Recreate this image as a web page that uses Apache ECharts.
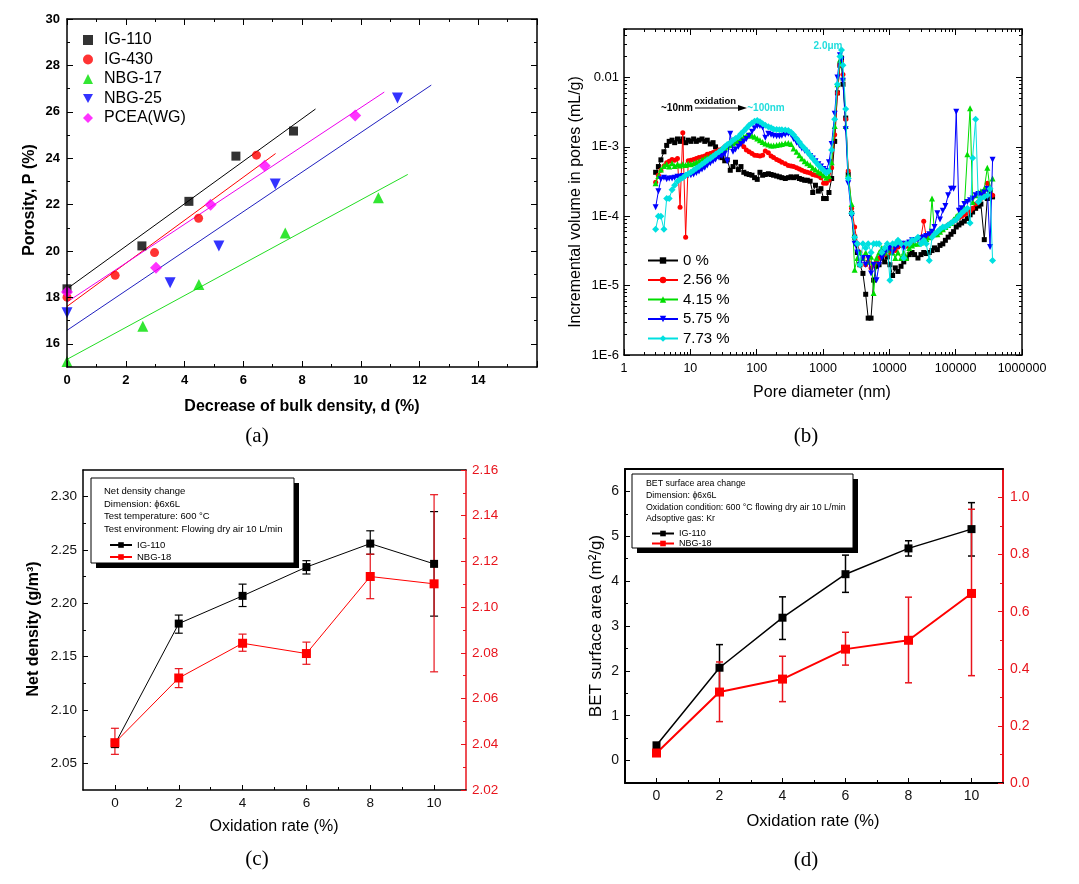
<!DOCTYPE html>
<html><head><meta charset="utf-8">
<script src="https://cdn.jsdelivr.net/npm/echarts@6/dist/echarts.min.js"></script>
<style>html,body{margin:0;padding:0;background:#fff}#c{width:1079px;height:884px}</style>
</head><body><div id="c"></div>
<script>
const FONT = '"Liberation Sans", Arial, Helvetica, sans-serif';
const SERIF = '"Liberation Serif", "Times New Roman", serif';

// ================= Panel (a) =================
const aXTicks = [0,2,4,6,8,10,12,14,16];
const aXLabels = [0,2,4,6,8,10,12,14];
const aXMinor = [1,3,5,7,9,11,13,15];
const aYTicks = [16,18,20,22,24,26,28,30];
const aYMinor = [17,19,21,23,25,27,29];
const aNames = ['IG-110','IG-430','NBG-17','NBG-25','PCEA(WG)'];
const aIG110 = [[0,18.37],[2.55,20.22],[4.15,22.14],[5.75,24.09],[7.71,25.17]];
const aIG430 = [[0,18.01],[1.64,18.95],[2.98,19.93],[4.48,21.41],[6.45,24.13]];
const aNBG17 = [[0,15.24],[2.58,16.76],[4.49,18.56],[7.43,20.78],[10.6,22.3]];
const aNBG25 = [[0,17.34],[3.51,18.63],[5.17,20.22],[7.09,22.89],[11.25,26.6]];
const aPCEA  = [[0,18.23],[3.03,19.28],[4.89,21.99],[6.73,23.67],[9.81,25.84]];
const aFitIG110 = [[0,18.37],[8.46,26.12]];
const aFitIG430 = [[0,17.61],[7.1,24.2]];
const aFitNBG17 = [[0,15.33],[11.6,23.3]];
const aFitNBG25 = [[0,16.58],[12.4,27.15]];
const aFitPCEA  = [[0,17.8],[10.8,26.85]];

// ================= Panel (b) =================
const bNames = ['0 %','2.56 %','4.15 %','5.75 %','7.73 %'];
const bXTicks = [1,10,100,1000,10000,100000,1000000];
const bXMinor = [2,3,4,5,6,7,8,9,20,30,40,50,60,70,80,90,200,300,400,500,600,700,800,900,
  2000,3000,4000,5000,6000,7000,8000,9000,20000,30000,40000,50000,60000,70000,80000,90000,
  200000,300000,400000,500000,600000,700000,800000,900000];
const bYTicks = [1e-6,1e-5,1e-4,1e-3,1e-2];
const bYLabels = ['1E-6','1E-5','1E-4','1E-3','0.01'];
const bYMinor = [2e-6,3e-6,4e-6,5e-6,6e-6,7e-6,8e-6,9e-6,2e-5,3e-5,4e-5,5e-5,6e-5,7e-5,8e-5,9e-5,
  2e-4,3e-4,4e-4,5e-4,6e-4,7e-4,8e-4,9e-4,2e-3,3e-3,4e-3,5e-3,6e-3,7e-3,8e-3,9e-3,2e-2,3e-2,4e-2,5e-2];
const bDiameter = [3,3.3,3.6,4,4.4,4.8,5.3,5.8,6.4,7, 7.7,8.5,9.3,10.2,11.2,12.3,13.5,15,16.5,18,
  20,22,24,27,30,33,36,40,44,48, 53,58,64,70,77,85,93,102,112,123,
  135,150,165,180,200,220,240,270,300,330, 360,400,440,480,530,580,640,700,770,850,
  930,1020,1120,1230,1350,1500,1650,1800,1900,2000, 2200,2400,2700,3000,3300,3600,4000,4400,4800,5300,
  5800,6400,7000,7700,8500,9300,10200,11200,12300,13500, 15000,16500,18000,20000,22000,24000,27000,30000,33000,36000,
  40000,44000,48000,53000,58000,64000,70000,77000,85000,93000, 102000,112000,123000,135000,150000,165000,180000,200000,220000,240000,
  270000,300000,330000,360000];
const b000 = [4.3e-4,5.2e-4,6.5e-4,8.5e-4,1.05e-3,1.2e-3,1.25e-3,1.15e-3,1.3e-3,1.2e-3,
  1.3e-3,1.15e-3,1.25e-3,1.2e-3,1.3e-3,1.2e-3,1.25e-3,1.3e-3,1.2e-3,1.25e-3,
  1.1e-3,1.15e-3,1.0e-3,8.5e-4,7e-4,6.3e-4,6.5e-4,4.6e-4,5.2e-4,6e-4,
  4.7e-4,5.2e-4,4.3e-4,4.1e-4,4e-4,3.9e-4,3.6e-4,3.4e-4,4.3e-4,3.9e-4,
  4e-4,4.1e-4,4e-4,3.9e-4,3.8e-4,3.7e-4,3.6e-4,3.5e-4,3.6e-4,3.7e-4,
  3.6e-4,3.7e-4,3.5e-4,3.4e-4,3.3e-4,3.3e-4,3.2e-4,2.2e-4,2.8e-4,2.3e-4,
  2.5e-4,1.8e-4,1.8e-4,2.2e-4,3.5e-4,1.2e-3,6e-3,1.5e-2,1.9e-2,8e-3,
  2.6e-3,4e-4,1.1e-4,5e-5,3e-5,2e-5,1.5e-5,7.5e-6,3.4e-6,3.4e-6,
  1.2e-5,1.9e-5,2e-5,2.5e-5,2.2e-5,2.6e-5,2e-5,1.4e-5,1.8e-5,1.6e-5,
  1.9e-5,2.2e-5,2.5e-5,2.8e-5,3e-5,2.8e-5,2.5e-5,2.8e-5,3e-5,2.9e-5,
  3e-5,3.2e-5,3.5e-5,3.3e-5,3.8e-5,4e-5,4.5e-5,5e-5,5.5e-5,6e-5,
  7e-5,7.5e-5,8e-5,8.5e-5,9.3e-5,1.05e-4,1.15e-4,1.3e-4,1.4e-4,1.5e-4,
  4.6e-5,1.8e-4,2.3e-4,1.9e-4];
const b256 = [3.1e-4,3.9e-4,4.6e-4,5.3e-4,5.9e-4,6.2e-4,6.6e-4,6.4e-4,6.8e-4,1.35e-4,
  1.6e-3,5e-5,6.3e-4,6.4e-4,6.6e-4,6.8e-4,7e-4,7.2e-4,7.4e-4,7.8e-4,
  8e-4,8.3e-4,8.6e-4,9e-4,9.3e-4,1e-3,1.05e-3,1.15e-3,1.25e-3,1.3e-3,
  1.2e-3,1.1e-3,1e-3,9e-4,8.5e-4,8e-4,7.6e-4,7.5e-4,7.4e-4,7.6e-4,
  8.7e-4,8.2e-4,7.4e-4,7e-4,6.6e-4,6.3e-4,6e-4,5.7e-4,5.4e-4,5.3e-4,
  5.2e-4,5e-4,4.8e-4,4.6e-4,4.4e-4,4.3e-4,4.2e-4,4e-4,3.9e-4,3.8e-4,
  3.6e-4,3e-4,3e-4,3.3e-4,5e-4,1.5e-3,6e-3,1.5e-2,1.7e-2,1.1e-2,
  2.5e-3,4.5e-4,1.3e-4,7e-5,4e-5,3e-5,2.5e-5,2e-5,2.2e-5,1.8e-5,
  2e-5,2.2e-5,2.5e-5,3e-5,2.8e-5,3.2e-5,3e-5,3.5e-5,3.2e-5,3.6e-5,
  3.8e-5,4e-5,3.7e-5,4e-5,4.3e-5,4.5e-5,4.8e-5,5e-5,8.5e-5,5e-5,
  5.5e-5,5.2e-5,5.5e-5,5.8e-5,6e-5,6.5e-5,7e-5,7.5e-5,8e-5,8.5e-5,
  9e-5,9.5e-5,1e-4,1.05e-4,1.1e-4,1.2e-4,1.3e-4,1.5e-4,1.6e-4,1.8e-4,
  2e-4,3e-4,2.5e-4,2e-4];
const b415 = [3e-4,3.8e-4,4.7e-4,5.3e-4,5.6e-4,5.2e-4,5.8e-4,5.3e-4,5.6e-4,5.4e-4,
  5.6e-4,5.5e-4,5.7e-4,5.6e-4,5.8e-4,6e-4,6.2e-4,6.5e-4,6.8e-4,7e-4,
  7.3e-4,7.6e-4,8e-4,8.5e-4,9e-4,9.5e-4,1e-3,1.06e-3,1.12e-3,1.18e-3,
  1.25e-3,1.32e-3,1.4e-3,1.45e-3,1.5e-3,1.45e-3,1.4e-3,1.32e-3,1.25e-3,1.18e-3,
  1.12e-3,1.08e-3,1.05e-3,1.05e-3,1.06e-3,1.08e-3,1.1e-3,1.13e-3,1.14e-3,1.1e-3,
  9.5e-4,8.5e-4,7.6e-4,6.8e-4,6.2e-4,5.8e-4,5.5e-4,5e-4,4.7e-4,4.4e-4,
  4.2e-4,3.9e-4,3.6e-4,3.8e-4,6e-4,2e-3,8e-3,1.8e-2,1.7e-2,1e-2,
  2e-3,4e-4,1.5e-4,1.7e-5,2.5e-5,3e-5,2.5e-5,3e-5,2.2e-5,2.6e-5,
  7.8e-6,2.5e-5,3e-5,3.5e-5,3e-5,3.3e-5,3.5e-5,3e-5,2.5e-5,3e-5,
  2.5e-5,3e-5,2.5e-5,3.5e-5,3.8e-5,4e-5,4e-5,4.2e-5,4.5e-5,4.7e-5,
  5e-5,1.8e-4,5.5e-5,5.5e-5,6e-5,6.5e-5,7e-5,7.5e-5,8e-5,9e-5,
  1e-4,1.1e-4,1.2e-4,1.3e-4,7.8e-4,3.6e-3,1.6e-4,2e-4,2.2e-4,2.3e-4,
  2.5e-4,5e-4,2.5e-4,3.5e-4];
const b575 = [1.35e-4,2.3e-4,3.4e-4,3.6e-4,3.4e-4,3.5e-4,3.5e-4,3.6e-4,3.7e-4,3.7e-4,
  3.8e-4,3.8e-4,3.9e-4,3.9e-4,4e-4,4.2e-4,4.4e-4,4.7e-4,5e-4,5.4e-4,
  5.8e-4,6.2e-4,6.6e-4,7e-4,7.4e-4,8e-4,6.2e-4,1.55e-3,8.5e-4,9.2e-4,
  1e-3,1.1e-3,1.2e-3,1.3e-3,1.45e-3,1.65e-3,1.85e-3,2e-3,2e-3,1.9e-3,
  1.35e-3,1.55e-3,1.5e-3,1.45e-3,1.42e-3,1.42e-3,1.45e-3,1.5e-3,1.55e-3,1.5e-3,
  1.3e-3,1.15e-3,1.05e-3,9.5e-4,8.8e-4,8.2e-4,7.4e-4,6.8e-4,6.2e-4,5.6e-4,
  5.2e-4,4.8e-4,4.5e-4,6e-4,1.1e-3,3e-3,1e-2,2.1e-2,1.8e-2,9e-3,
  1.8e-3,3e-4,1e-4,4e-5,3e-5,2e-5,2.5e-5,2e-5,2.5e-5,1.5e-5,
  2e-5,1.2e-5,2e-5,2.5e-5,3e-5,3.2e-5,3.5e-5,3e-5,3.5e-5,3.8e-5,
  4e-5,3.5e-5,4e-5,4.2e-5,4.5e-5,4.5e-5,4.6e-5,4.8e-5,5e-5,5.2e-5,
  5.5e-5,6e-5,7e-5,1.1e-4,9e-5,1.2e-4,1.4e-4,2e-4,2.5e-4,2.5e-4,
  3.2e-3,1.2e-4,1.3e-4,1.5e-4,1.6e-4,1.7e-4,1.8e-4,2e-4,2.1e-4,2e-4,
  2.2e-4,2.5e-4,3.6e-5,6.5e-4];
const b773 = [6.5e-5,1e-4,1e-4,6.5e-5,1.8e-4,1.8e-4,2.4e-4,2.8e-4,3.2e-4,3.4e-4,
  3.6e-4,3.9e-4,4.1e-4,4.3e-4,4.6e-4,4.9e-4,5.2e-4,5.6e-4,6e-4,6.4e-4,
  6.8e-4,7.3e-4,7.8e-4,8.5e-4,9.2e-4,1e-3,1.08e-3,1.15e-3,1.25e-3,1.32e-3,
  1.4e-3,1.55e-3,1.7e-3,1.85e-3,2.05e-3,2.2e-3,2.35e-3,2.4e-3,2.3e-3,2.15e-3,
  2.05e-3,1.95e-3,1.88e-3,1.8e-3,1.78e-3,1.76e-3,1.76e-3,1.75e-3,1.72e-3,1.62e-3,
  1.5e-3,1.32e-3,1.18e-3,1.05e-3,9.5e-4,8.5e-4,7.6e-4,6.8e-4,6.1e-4,5.5e-4,
  5e-4,4.6e-4,4.2e-4,4.5e-4,9e-4,2.5e-3,8e-3,2e-2,2.5e-2,1.5e-2,
  3.5e-3,3.5e-4,1.1e-4,5e-5,4e-5,2e-5,4e-5,3.5e-5,4e-5,3e-5,
  4e-5,4e-5,4e-5,3e-5,3.5e-5,4e-5,1.2e-5,4e-5,4e-5,4.5e-5,
  4e-5,2.5e-5,4e-5,4e-5,4.5e-5,4.5e-5,5e-5,4e-5,4.5e-5,4e-5,
  2.3e-5,5e-5,5.5e-5,6e-5,6.5e-5,7e-5,7e-5,7.5e-5,8e-5,8.5e-5,
  9e-5,1e-4,1.1e-4,1.2e-4,1.3e-4,8e-5,6.9e-4,2.5e-3,1.6e-4,1.8e-4,
  1.9e-4,2e-4,2.5e-4,2.3e-5];

// ================= Panel (c) =================
const cdXTicks = [0,2,4,6,8,10];
const cdXMinor = [1,3,5,7,9];
const cX = [0,2,4,6,8,10];
const cLeftTicks = [2.05,2.10,2.15,2.20,2.25,2.30];
const cLeftMinor = [2.075,2.125,2.175,2.225,2.275];
const cRightTicks = [2.02,2.04,2.06,2.08,2.10,2.12,2.14,2.16];
const cRightMinor = [2.03,2.05,2.07,2.09,2.11,2.13,2.15];
const cIG110 = [2.068,2.181,2.207,2.234,2.256,2.237];
const cIG110Lo = [2.065,2.172,2.197,2.2275,2.246,2.188];
const cIG110Hi = [2.071,2.189,2.218,2.240,2.268,2.286];
const cNBG18 = [2.0407,2.069,2.0842,2.0797,2.1134,2.1102];
const cNBG18Lo = [2.0356,2.0648,2.0807,2.075,2.1037,2.0717];
const cNBG18Hi = [2.047,2.0731,2.0882,2.0847,2.1232,2.1492];

// ================= Panel (d) =================
const dX = [0,2,4,6,8,10];
const dLeftTicks = [0,1,2,3,4,5,6];
const dLeftMinor = [0.5,1.5,2.5,3.5,4.5,5.5];
const dRightTicks = [0,0.2,0.4,0.6,0.8,1.0];
const dRightMinor = [0.1,0.3,0.5,0.7,0.9];
const dIG110 = [0.34,2.07,3.185,4.155,4.73,5.16];
const dIG110Lo = [0.31,1.55,2.70,3.75,4.56,4.56];
const dIG110Hi = [0.37,2.585,3.65,4.58,4.90,5.75];
const dNBG18 = [0.105,0.3186,0.364,0.469,0.50,0.664];
const dNBG18Lo = [0.098,0.215,0.285,0.413,0.351,0.376];
const dNBG18Hi = [0.112,0.424,0.444,0.528,0.651,0.959];

// ================= helpers =================
const xAxes = [], yAxes = [];
function axis(o) {
  const color = o.color || '#000';
  const a = {
    type: o.type || 'value', gridIndex: o.grid, position: o.pos, min: o.min, max: o.max,
    axisLine: {show: o.line !== false, onZero: false, lineStyle: {color: color, width: o.lineW || 1.5}},
    axisTick: o.ticks ? {show: true, inside: true, length: o.tickLen || 5, customValues: o.ticks, lineStyle: {color: color, width: 1}} : {show: false},
    axisLabel: o.labels ? {show: true, customValues: o.labels, formatter: o.fmt, margin: o.margin || 6,
      color: o.labelColor || color, fontFamily: FONT, fontSize: o.fontSize || 13, fontWeight: o.bold ? 'bold' : 'normal'} : {show: false},
    splitLine: {show: false}, minorTick: {show: false}, minorSplitLine: {show: false}, z: 5
  };
  if (a.type === 'log') a.logBase = 10;
  return a;
}
function addX(o) { xAxes.push(axis(o)); return xAxes.length - 1; }
function addY(o) { yAxes.push(axis(o)); return yAxes.length - 1; }

// Panel a axes
const aX = addX({grid:0,pos:'bottom',min:0,max:16,ticks:aXTicks,tickLen:6,labels:aXLabels,fmt:v=>String(v),bold:true,fontSize:13,margin:7});
addX({grid:0,pos:'bottom',min:0,max:16,ticks:aXMinor,tickLen:3,line:false});
addX({grid:0,pos:'top',min:0,max:16,ticks:aXTicks,tickLen:6});
addX({grid:0,pos:'top',min:0,max:16,ticks:aXMinor,tickLen:3,line:false});
const aY = addY({grid:0,pos:'left',min:15,max:30,ticks:aYTicks,tickLen:6,labels:aYTicks,fmt:v=>String(v),bold:true,fontSize:13,margin:7});
addY({grid:0,pos:'left',min:15,max:30,ticks:aYMinor,tickLen:3,line:false});
addY({grid:0,pos:'right',min:15,max:30,ticks:aYTicks,tickLen:6});
addY({grid:0,pos:'right',min:15,max:30,ticks:aYMinor,tickLen:3,line:false});

// Panel b axes
const bX = addX({grid:1,pos:'bottom',type:'log',min:1,max:1000000,ticks:bXTicks,tickLen:6,labels:bXTicks,fmt:v=>String(Math.round(v)),fontSize:12.5,margin:7});
addX({grid:1,pos:'bottom',type:'log',min:1,max:1000000,ticks:bXMinor,tickLen:3,line:false});
addX({grid:1,pos:'top',type:'log',min:1,max:1000000,ticks:bXTicks,tickLen:6});
addX({grid:1,pos:'top',type:'log',min:1,max:1000000,ticks:bXMinor,tickLen:3,line:false});
function bYFmt(v) {
  let best = 0, bd = 1e9;
  bYTicks.forEach((t, i) => { const d = Math.abs(Math.log10(t) - Math.log10(v)); if (d < bd) { bd = d; best = i; } });
  return bYLabels[best];
}
const bY = addY({grid:1,pos:'left',type:'log',min:1e-6,max:0.05,ticks:bYTicks,tickLen:6,labels:bYTicks,fmt:bYFmt,fontSize:13,margin:5});
addY({grid:1,pos:'left',type:'log',min:1e-6,max:0.05,ticks:bYMinor,tickLen:3,line:false});
addY({grid:1,pos:'right',type:'log',min:1e-6,max:0.05,ticks:bYTicks,tickLen:6});
addY({grid:1,pos:'right',type:'log',min:1e-6,max:0.05,ticks:bYMinor,tickLen:3,line:false});

// Panel c axes
const cXi = addX({grid:2,pos:'bottom',min:-1,max:11,ticks:cdXTicks,tickLen:5,labels:cdXTicks,fmt:v=>String(v),fontSize:13.5,margin:6,labelColor:'#111'});
addX({grid:2,pos:'bottom',min:-1,max:11,ticks:cdXMinor,tickLen:3,line:false});
addX({grid:2,pos:'top',min:-1,max:11});
const cYL = addY({grid:2,pos:'left',min:2.025,max:2.325,ticks:cLeftTicks,tickLen:5,labels:cLeftTicks,fmt:v=>v.toFixed(2),fontSize:13.5,margin:6,labelColor:'#111'});
addY({grid:2,pos:'left',min:2.025,max:2.325,ticks:cLeftMinor,tickLen:3,line:false});
const cYR = addY({grid:2,pos:'right',min:2.02,max:2.16,ticks:cRightTicks,tickLen:5,labels:cRightTicks,fmt:v=>v.toFixed(2),fontSize:13.5,margin:6,color:'#e8141c'});
addY({grid:2,pos:'right',min:2.02,max:2.16,ticks:cRightMinor,tickLen:3,line:false,color:'#e8141c'});

// Panel d axes
const dXi = addX({grid:3,pos:'bottom',min:-1,max:11,ticks:cdXTicks,tickLen:5,labels:cdXTicks,fmt:v=>String(v),fontSize:14,margin:6,lineW:2,labelColor:'#111'});
addX({grid:3,pos:'bottom',min:-1,max:11,ticks:cdXMinor,tickLen:3,line:false});
addX({grid:3,pos:'top',min:-1,max:11,lineW:2});
const dYL = addY({grid:3,pos:'left',min:-0.5,max:6.5,ticks:dLeftTicks,tickLen:5,labels:dLeftTicks,fmt:v=>String(Math.round(v)),fontSize:14,margin:6,lineW:2,labelColor:'#111'});
addY({grid:3,pos:'left',min:-0.5,max:6.5,ticks:dLeftMinor,tickLen:3,line:false});
const dYR = addY({grid:3,pos:'right',min:0,max:1.1,ticks:dRightTicks,tickLen:5,labels:dRightTicks,fmt:v=>v.toFixed(1),fontSize:14,margin:7,lineW:2,color:'#e8141c'});
addY({grid:3,pos:'right',min:0,max:1.1,ticks:dRightMinor,tickLen:3,line:false,color:'#e8141c'});

// ================= series =================
const DOWN = 'path://M0,0 L10,0 L5,9 Z';
const series = [];
const aColors = ['#000000','#ff0000','#00e000','#0000ff','#ff00ff'];
const aLineColors = ['#000000','#ff0000','#22dd22','#2020c0','#ee00ee'];
const aSymbols = ['rect','circle','triangle',DOWN,'diamond'];
const aSizes = [9,9,11,11,12];
[aIG110,aIG430,aNBG17,aNBG25,aPCEA].forEach((d,i)=>{
  series.push({name:aNames[i],type:'scatter',xAxisIndex:aX,yAxisIndex:aY,data:d,symbol:aSymbols[i],symbolSize:aSizes[i],
    itemStyle:{color:aColors[i]},z:4});
});
[aFitIG110,aFitIG430,aFitNBG17,aFitNBG25,aFitPCEA].forEach((d,i)=>{
  series.push({name:'fit '+aNames[i],type:'line',xAxisIndex:aX,yAxisIndex:aY,data:d,showSymbol:false,symbol:'none',silent:true,
    lineStyle:{color:aLineColors[i],width:1},z:3});
});

const bColors = ['#000000','#ff0000','#00dd00','#0000ff','#00e0e0'];
const bSymbols = ['rect','circle','triangle',DOWN,'diamond'];
const bSizes = [5,5,6,6,7];
[b000,b256,b415,b575,b773].forEach((vals,i)=>{
  series.push({name:bNames[i],type:'line',xAxisIndex:bX,yAxisIndex:bY,
    data:bDiameter.map((x,j)=>[x,vals[j]]),symbol:bSymbols[i],symbolSize:bSizes[i],showSymbol:true,
    itemStyle:{color:bColors[i]},lineStyle:{color:bColors[i],width:1},z:2+i*0.1});
});

function errBars(xs, lo, hi, xi, yi, color, cap, lw) {
  return {type:'custom', xAxisIndex:xi, yAxisIndex:yi, silent:true, z:1,
    data: xs.map((x,i)=>[x, lo[i], hi[i]]), encode:{x:0, y:[1,2]}, itemStyle:{color:color},
    renderItem: function(params, api) {
      const x = api.value(0), l = api.value(1), h = api.value(2);
      const p = api.coord([x, h]), q = api.coord([x, l]);
      const st = {stroke: color, lineWidth: lw};
      return {type:'group', children:[
        {type:'line', shape:{x1:p[0],y1:p[1],x2:q[0],y2:q[1]}, style:st},
        {type:'line', shape:{x1:p[0]-cap,y1:p[1],x2:p[0]+cap,y2:p[1]}, style:st},
        {type:'line', shape:{x1:q[0]-cap,y1:q[1],x2:q[0]+cap,y2:q[1]}, style:st}]};
    }};
}
series.push(errBars(cX,cIG110Lo,cIG110Hi,cXi,cYL,'#000',4,1.2));
series.push(errBars(cX,cNBG18Lo,cNBG18Hi,cXi,cYR,'#e8141c',4,1.2));
series.push({name:'IG-110|c',type:'line',xAxisIndex:cXi,yAxisIndex:cYL,data:cX.map((x,i)=>[x,cIG110[i]]),
  symbol:'rect',symbolSize:8,itemStyle:{color:'#000'},lineStyle:{color:'#000',width:1},z:3});
series.push({name:'NBG-18|c',type:'line',xAxisIndex:cXi,yAxisIndex:cYR,data:cX.map((x,i)=>[x,cNBG18[i]]),
  symbol:'rect',symbolSize:9,itemStyle:{color:'#ff0000'},lineStyle:{color:'#ff0000',width:1},z:3});
series.push(errBars(dX,dIG110Lo,dIG110Hi,dXi,dYL,'#000',3.5,1.5));
series.push(errBars(dX,dNBG18Lo,dNBG18Hi,dXi,dYR,'#e8141c',3.5,1.5));
series.push({name:'IG-110|d',type:'line',xAxisIndex:dXi,yAxisIndex:dYL,data:dX.map((x,i)=>[x,dIG110[i]]),
  symbol:'rect',symbolSize:8,itemStyle:{color:'#000'},lineStyle:{color:'#000',width:1.5},z:3});
series.push({name:'NBG-18|d',type:'line',xAxisIndex:dXi,yAxisIndex:dYR,data:dX.map((x,i)=>[x,dNBG18[i]]),
  symbol:'rect',symbolSize:9,itemStyle:{color:'#ff0000'},lineStyle:{color:'#ff0000',width:2},z:3});

// ================= graphics =================
function txt(x, y, text, font, opt) {
  opt = opt || {};
  return {type:'text', x:x, y:y, rotation: opt.rot || 0, z: opt.z || 10, silent:true,
    style:{text:text, font:font, fill: opt.fill || '#000', align: opt.align || 'center', verticalAlign:'middle'}};
}
const G = [];
// axis titles
G.push(txt(30, 200, 'Porosity, P (%)', 'bold 16px ' + FONT, {rot: Math.PI/2}));
G.push(txt(302, 407, 'Decrease of bulk density, d (%)', 'bold 16px ' + FONT));
G.push(txt(576, 202, 'Incremental volume in pores (mL/g)', '16px ' + FONT, {rot: Math.PI/2}));
G.push(txt(822, 393, 'Pore diameter (nm)', '16px ' + FONT));
G.push(txt(34, 629, 'Net density (g/m\u00B3)', 'bold 16px ' + FONT, {rot: Math.PI/2}));
G.push(txt(274, 827, 'Oxidation rate (%)', '16px ' + FONT));
G.push(txt(596, 626, 'BET surface area (m\u00B2/g)', '17px ' + FONT, {rot: Math.PI/2}));
G.push(txt(813, 821, 'Oxidation rate (%)', '16.5px ' + FONT));
// panel labels
G.push(txt(257, 436, '(a)', '21px ' + SERIF));
G.push(txt(806, 436, '(b)', '21px ' + SERIF));
G.push(txt(257, 859, '(c)', '21px ' + SERIF));
G.push(txt(806, 860, '(d)', '21px ' + SERIF));
// panel b annotations
G.push(txt(677, 108, '~10nm', 'bold 10px ' + FONT));
G.push(txt(715, 101, 'oxidation', 'bold 9.5px ' + FONT));
G.push({type:'line', z:10, silent:true, shape:{x1:695,y1:108,x2:740,y2:108}, style:{stroke:'#000',lineWidth:1}});
G.push({type:'polygon', z:10, silent:true, shape:{points:[[738,105],[747,108],[738,111]]}, style:{fill:'#000'}});
G.push(txt(766, 108, '~100nm', 'bold 10px ' + FONT, {fill:'#22dddd'}));
G.push(txt(828, 46, '2.0\u03BCm', 'bold 10px ' + FONT, {fill:'#22dddd'}));
// panel c info box
G.push({type:'rect', z:8, silent:true, shape:{x:96,y:483,width:203,height:85}, style:{fill:'#000'}});
G.push({type:'rect', z:9, silent:true, shape:{x:91,y:478,width:203,height:85}, style:{fill:'#fff',stroke:'#000',lineWidth:1}});
G.push(txt(104, 491, 'Net density change', '9.5px ' + FONT, {align:'left'}));
G.push(txt(104, 504, 'Dimension: \u03D56x6L', '9.5px ' + FONT, {align:'left'}));
G.push(txt(104, 516.5, 'Test temperature: 600 \u00B0C', '9.5px ' + FONT, {align:'left'}));
G.push(txt(104, 529, 'Test environment: Flowing dry air 10 L/min', '9.5px ' + FONT, {align:'left'}));
// panel d info box
G.push({type:'rect', z:8, silent:true, shape:{x:637,y:479,width:221,height:74}, style:{fill:'#000'}});
G.push({type:'rect', z:9, silent:true, shape:{x:632,y:474,width:221,height:74}, style:{fill:'#fff',stroke:'#000',lineWidth:1}});
G.push(txt(646, 484, 'BET surface area change', '8.8px ' + FONT, {align:'left'}));
G.push(txt(646, 495.5, 'Dimension: \u03D56x6L', '8.8px ' + FONT, {align:'left'}));
G.push(txt(646, 507.5, 'Oxidation condition: 600 \u00B0C flowing dry air 10 L/min', '8.8px ' + FONT, {align:'left'}));
G.push(txt(646, 519, 'Adsoptive gas: Kr', '8.8px ' + FONT, {align:'left'}));

const chart = echarts.init(document.getElementById('c'), null, {renderer:'canvas'});
chart.setOption({
  backgroundColor:'#fff',
  animation:false,
  grid:[
    {left:67, top:19, width:470, height:348, outerBoundsMode:'none'},
    {left:624, top:29, width:398, height:326, outerBoundsMode:'none'},
    {left:83, top:470, width:383, height:320, outerBoundsMode:'none'},
    {left:625, top:469, width:378, height:314, outerBoundsMode:'none'}
  ],
  xAxis:xAxes, yAxis:yAxes,
  legend:[
    {data:aNames, orient:'vertical', left:78, top:27, itemWidth:10, itemHeight:10, itemGap:3.5, selectedMode:false,
     textStyle:{fontSize:16, fontFamily:FONT, color:'#000', padding:[0,0,0,6]}},
    {data:bNames, orient:'vertical', left:642, top:248, itemWidth:30, itemHeight:8, itemGap:4.5, selectedMode:false,
     textStyle:{fontSize:15, fontFamily:FONT, color:'#000'}},
    {data:['IG-110|c','NBG-18|c'], orient:'vertical', left:104, top:535, itemWidth:22, itemHeight:7, itemGap:2, selectedMode:false, z:20,
     formatter:n=>n.split('|')[0], textStyle:{fontSize:9.5, fontFamily:FONT, color:'#000'}},
    {data:['IG-110|d','NBG-18|d'], orient:'vertical', left:646, top:524, itemWidth:22, itemHeight:7, itemGap:1, selectedMode:false, z:20,
     formatter:n=>n.split('|')[0], textStyle:{fontSize:9, fontFamily:FONT, color:'#000'}}
  ],
  graphic:G,
  series:series
});
</script></body></html>
